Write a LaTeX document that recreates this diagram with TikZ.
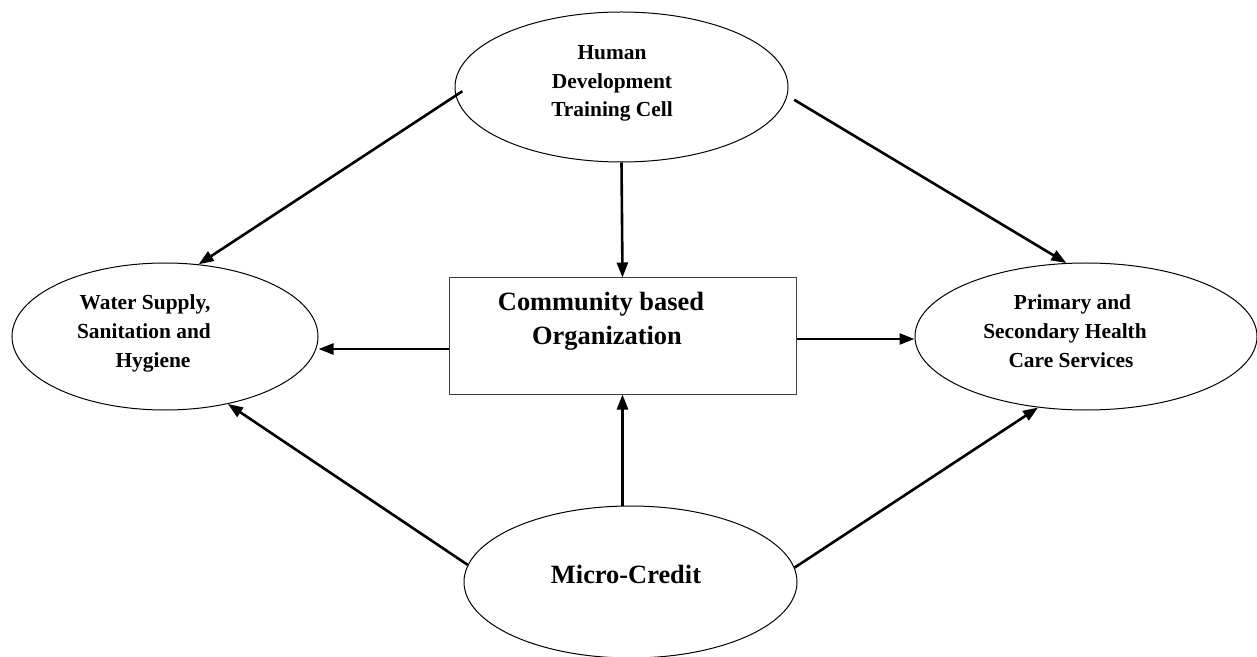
\documentclass[tikz,border=0pt]{standalone}
\usepackage{fontspec}
\setmainfont{Liberation Serif}
\usetikzlibrary{shapes.geometric,arrows.meta}
\tikzset{
  ell/.style={draw, ellipse, line width=0.5pt, inner sep=0pt},
  cbox/.style={draw=black!75, rectangle, line width=0.5pt, inner sep=0pt, minimum width=173.5pt, minimum height=58pt},
  small/.style={font=\fontsize{10.7pt}{14pt}\selectfont\bfseries, anchor=base, inner sep=0pt},
  big/.style={font=\fontsize{13.2pt}{17pt}\selectfont\bfseries, anchor=base, inner sep=0pt},
  arr/.style={line width=1.3pt, -{Triangle[length=7.5pt,width=5.5pt]}}
}
\begin{document}
\begin{tikzpicture}[x=0.5pt,y=-0.5pt]
\useasboundingbox (0,0) rectangle (1257,657);
% shapes
\node[ell, minimum width=166.5pt, minimum height=75pt] (top) at (621.5,87) {};
\node[ell, minimum width=153pt, minimum height=73.5pt] (left) at (165,336.5) {};
\node[ell, minimum width=171pt, minimum height=73.5pt] (right) at (1086,336.5) {};
\node[ell, minimum width=166.5pt, minimum height=76pt] (micro) at (630.5,582) {};
\node[cbox] (box) at (622.5,336) {};
% texts
\node[small] (t1) at (612,60) {Human};
\node[small] (t2) at (612,88.5) {Development};
\node[small] (t3) at (612,117) {Training Cell};
\node[small] (l1) at (145,310) {Water Supply,};
\node[small] (l2) at (144,339) {Sanitation and};
\node[small] (l3) at (153,368) {Hygiene};
\node[small] (r1) at (1072.5,310) {Primary and};
\node[small] (r2) at (1065,339) {Secondary Health};
\node[small] (r3) at (1071,368) {Care Services};
\node[big] (b1) at (601,311) {Community based};
\node[big] (b2) at (607,345) {Organization};
\node[big] (m1) at (626,583) {Micro-Credit};
% connectors
\draw[arr, shorten <=-4pt] (top.183) -- (left.65);
\draw[arr, shorten <=4pt] (top.-3) -- (right.105);
\draw[arr] (top.south) -- (box.north);
\draw[arr] ([yshift=-6.5pt]box.west) -- ([yshift=-6.5pt]box.west -| left.east);
\draw[arr] ([yshift=-1.5pt]box.east) -- ([yshift=-1.5pt]box.east -| right.west);
\draw[arr] (box.south |- micro.north) -- (box.south);
\draw[arr] (micro.174.5) -- (left.-47);
\draw[arr] (micro.5.5) -- (right.236);
\end{tikzpicture}
\end{document}
